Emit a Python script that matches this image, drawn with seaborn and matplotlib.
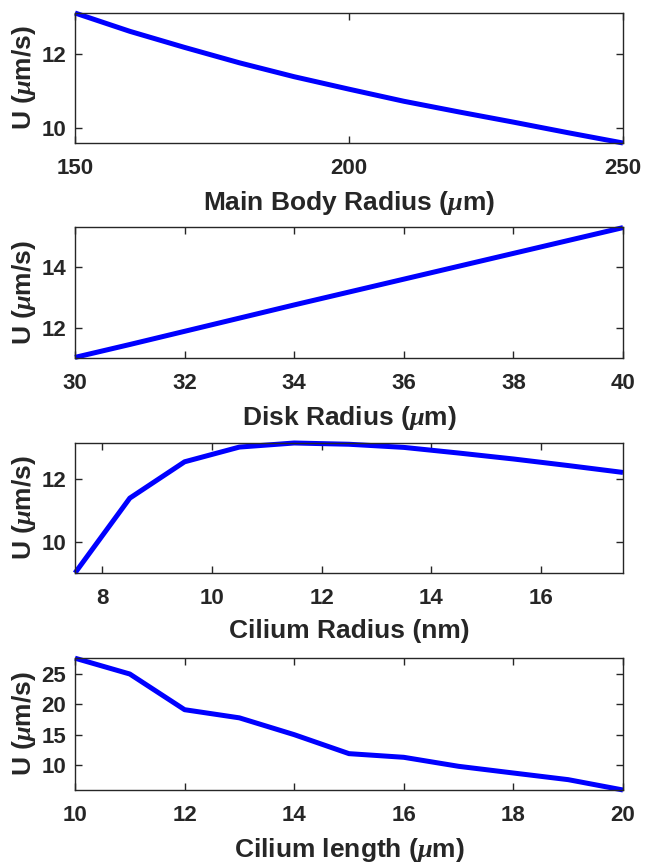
import numpy as np
import pandas as pd
import seaborn as sns
import matplotlib
matplotlib.use("Agg")
import matplotlib.pyplot as plt

# ---- data ----
body_radius = [150, 160, 170, 180, 190, 200, 210, 220, 230, 240, 250]
u_body = [13.13, 12.63, 12.19, 11.77, 11.39, 11.05, 10.72, 10.43, 10.15, 9.86, 9.58]

disk_radius = [30, 31, 32, 33, 34, 35, 36, 37, 38, 39, 40]
u_disk = [11.05, 11.47, 11.90, 12.33, 12.76, 13.18, 13.60, 14.02, 14.44, 14.86, 15.28]

cilium_radius = [7.5, 8.5, 9.5, 10.5, 11.5, 12.5, 13.5, 14.5, 15.5, 16.5, 17.5]
u_cradius = [9.0, 11.39, 12.55, 13.02, 13.15, 13.11, 13.01, 12.83, 12.64, 12.43, 12.21]

cilium_length = [10, 11, 12, 13, 14, 15, 16, 17, 18, 19, 20]
u_clength = [27.6, 25.0, 19.14, 17.8, 15.04, 11.92, 11.32, 9.84, 8.74, 7.65, 5.95]

xlabels = [r"Main Body Radius ($\mu$m)", r"Disk Radius ($\mu$m)",
           r"Cilium Radius (nm)", r"Cilium length ($\mu$m)"]
ylabel = r"U ($\mu$m/s)"
xticks_list = [[150, 200, 250], [30, 32, 34, 36, 38, 40],
               [8, 10, 12, 14, 16], [10, 12, 14, 16, 18, 20]]
yticks_list = [[10, 12], [12, 14], [10, 12], [10, 15, 20, 25]]
xlims = [(150, 250), (30, 40), (7.5, 17.5), (10, 20)]
ylims = [(9.58, 13.13), (11.03, 15.30), (9.0, 13.15), (5.95, 27.63)]

sns.set_style("ticks")
plt.rcParams["font.family"] = ["Liberation Sans", "DejaVu Sans"]
plt.rcParams["font.weight"] = "bold"
plt.rcParams["mathtext.fontset"] = "custom"
plt.rcParams["mathtext.it"] = "Liberation Serif:italic"
plt.rcParams["mathtext.rm"] = "Liberation Sans:bold"

dark = "#262626"
fig = plt.figure(figsize=(6.46, 8.63), dpi=100)
left, width = 75 / 646, (623 - 75) / 646
tops = [13, 227, 443, 658]
bottoms = [143, 358, 573, 790]

datasets = [(body_radius, u_body), (disk_radius, u_disk),
            (cilium_radius, u_cradius), (cilium_length, u_clength)]

for i, (xs, ys) in enumerate(datasets):
    b = 1 - bottoms[i] / 863
    h = (bottoms[i] - tops[i]) / 863
    ax = fig.add_axes([left, b, width, h])
    df = pd.DataFrame({"x": xs, "y": ys})
    sns.lineplot(data=df, x="x", y="y", ax=ax, color="#0000ff", linewidth=3.6)
    for ln in ax.lines:
        ln.set_clip_on(False)
        ln.set_solid_capstyle("butt")
    ax.set_xlim(*xlims[i])
    ax.set_ylim(*ylims[i])
    ax.set_xticks(xticks_list[i])
    ax.set_yticks(yticks_list[i])
    ax.tick_params(direction="in", top=True, right=True, length=5, width=1.0,
                   color=dark, labelsize=16, labelcolor=dark)
    ax.tick_params(axis="x", pad=11)
    ax.tick_params(axis="y", pad=6.5)
    for lab in ax.get_xticklabels() + ax.get_yticklabels():
        lab.set_fontweight("bold")
    for sp in ax.spines.values():
        sp.set_visible(True)
        sp.set_color(dark)
        sp.set_linewidth(1.0)
    ax.set_xlabel(xlabels[i], fontsize=19, fontweight="bold", color=dark, labelpad=7)
    ax.set_ylabel(ylabel, fontsize=19, fontweight="bold", color=dark, labelpad=2)

fig.savefig("out.png", dpi=100)
